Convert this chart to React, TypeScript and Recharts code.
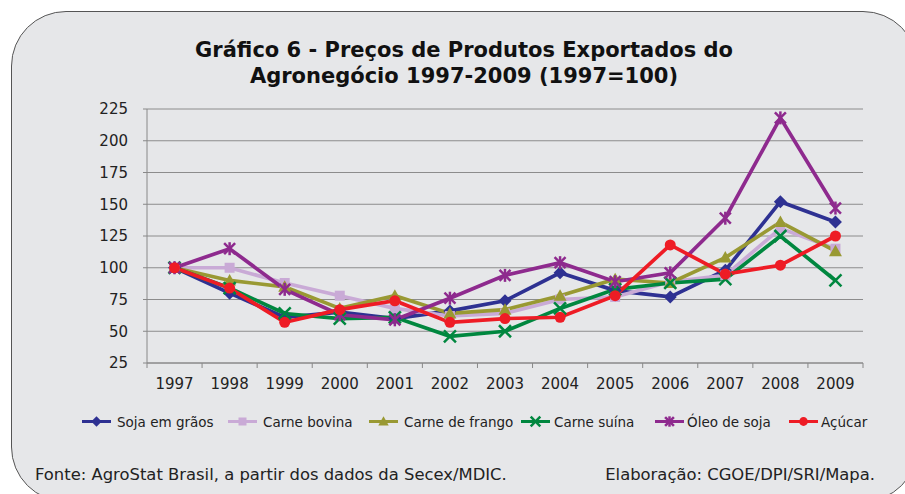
import React from "react";
import { LineChart, Line, XAxis, YAxis, CartesianGrid } from "recharts";

const years = ["1997", "1998", "1999", "2000", "2001", "2002", "2003", "2004", "2005", "2006", "2007", "2008", "2009"];
const sojaEmGraos = [100, 80, 61, 65, 60, 66, 74, 96, 82, 77, 98, 152, 136];
const carneBovina = [100, 100, 88, 78, 68, 62, 64, 75, 77, 89, 94, 131, 115];
const carneFrango = [100, 90, 85, 68, 78, 64, 67, 78, 91, 88, 108, 136, 113];
const carneSuina = [100, 84, 64, 60, 61, 46, 50, 68, 83, 88, 91, 125, 90];
const oleoSoja = [100, 115, 83, 63, 59, 76, 94, 104, 89, 96, 139, 218, 147];
const acucar = [100, 84, 57, 67, 74, 57, 60, 61, 78, 118, 95, 102, 125];
const yTicks = [25, 50, 75, 100, 125, 150, 175, 200, 225];

const series = [
  { key: "soja", name: "Soja em grãos", values: sojaEmGraos, color: "#2e3192", shape: "diamond" },
  { key: "bovina", name: "Carne bovina", values: carneBovina, color: "#c9aad6", shape: "square" },
  { key: "frango", name: "Carne de frango", values: carneFrango, color: "#999933", shape: "triangle" },
  { key: "suina", name: "Carne suína", values: carneSuina, color: "#00873f", shape: "x" },
  { key: "oleo", name: "Óleo de soja", values: oleoSoja, color: "#8e2a8e", shape: "star" },
  { key: "acucar", name: "Açúcar", values: acucar, color: "#ee1c25", shape: "circle" },
];

const data = years.map((ano, i) => {
  const row: any = { ano };
  series.forEach((s) => (row[s.key] = s.values[i]));
  return row;
});

const W = 905;
const H = 494;
const M = { top: 109, right: 42, bottom: 101, left: 0 };
const Y_W = 147;
const band = (W - Y_W - M.right) / years.length;

function Marker({ cx, cy, shape, color, s = 1 }: any) {
  const d = 6.5 * s;
  switch (shape) {
    case "diamond":
      return <polygon points={`${cx},${cy - d} ${cx + d},${cy} ${cx},${cy + d} ${cx - d},${cy}`} fill={color} />;
    case "square":
      return <rect x={cx - 5 * s} y={cy - 5 * s} width={10 * s} height={10 * s} fill={color} />;
    case "triangle":
      return <polygon points={`${cx},${cy - d} ${cx + d},${cy + 5 * s} ${cx - d},${cy + 5 * s}`} fill={color} />;
    case "x":
      return (
        <g stroke={color} strokeWidth={2.5}>
          <line x1={cx - 6 * s} y1={cy - 6 * s} x2={cx + 6 * s} y2={cy + 6 * s} />
          <line x1={cx - 6 * s} y1={cy + 6 * s} x2={cx + 6 * s} y2={cy - 6 * s} />
        </g>
      );
    case "star":
      return (
        <g stroke={color} strokeWidth={2.5}>
          <line x1={cx - 5.5 * s} y1={cy - 5.5 * s} x2={cx + 5.5 * s} y2={cy + 5.5 * s} />
          <line x1={cx - 5.5 * s} y1={cy + 5.5 * s} x2={cx + 5.5 * s} y2={cy - 5.5 * s} />
          <line x1={cx} y1={cy - 6.5 * s} x2={cx} y2={cy + 6.5 * s} />
        </g>
      );
    default:
      return <circle cx={cx} cy={cy} r={5.5 * s} fill={color} />;
  }
}

function XTick(props: any) {
  const { x, y, payload, index } = props;
  return (
    <g>
      <line x1={x - band / 2} y1={y} x2={x - band / 2} y2={y + 5} stroke="#888" />
      {index === years.length - 1 && <line x1={x + band / 2} y1={y} x2={x + band / 2} y2={y + 5} stroke="#888" />}
      <text x={x} y={y + 26} textAnchor="middle" fontSize={15} fill="#222" fontFamily="DejaVu Sans">
        {payload.value}
      </text>
    </g>
  );
}

const legendPos = [
  { icon: 82, text: 117 },
  { icon: 228, text: 263 },
  { icon: 369, text: 404 },
  { icon: 521, text: 554 },
  { icon: 655, text: 687 },
  { icon: 789, text: 821 },
];

const font = "'DejaVu Sans', Verdana, sans-serif";

export default function App() {
  return (
    <div style={{ position: "absolute", left: 0, top: 0, width: W, height: H, overflow: "hidden", background: "#fff" }}>
      <div
        style={{
          position: "absolute",
          left: 11,
          top: 11,
          width: 905,
          height: 489,
          background: "#e6e7e9",
          border: "1px solid #555",
          borderRadius: 55,
        }}
      />
      <div style={{ position: "absolute", left: 0, top: 0 }}>
        <LineChart width={W} height={H} data={data} margin={M}>
          <CartesianGrid vertical={false} stroke="#8c8c8c" />
          <XAxis
            dataKey="ano"
            height={30}
            tickSize={0}
            tickMargin={0}
            padding={{ left: band / 2, right: band / 2 }}
            axisLine={{ stroke: "#888" }}
            tick={<XTick />}
            interval={0}
          />
          <YAxis
            width={Y_W}
            domain={[25, 225]}
            ticks={yTicks}
            interval={0}
            tickSize={4}
            tickMargin={15}
            axisLine={{ stroke: "#888" }}
            tickLine={{ stroke: "#888" }}
            tick={{ fontSize: 15, fill: "#222", fontFamily: "DejaVu Sans" }}
          />
          {series.map((s) => (
            <Line
              key={s.key}
              dataKey={s.key}
              name={s.name}
              stroke={s.color}
              strokeWidth={3.7}
              isAnimationActive={false}
              dot={(p: any) => <Marker key={`${s.key}-${p.index}`} cx={p.cx} cy={p.cy} shape={s.shape} color={s.color} />}
            />
          ))}
        </LineChart>
      </div>
      <svg style={{ position: "absolute", left: 0, top: 0 }} width={W} height={H} fontFamily={font}>
        <text x={464} y={57} textAnchor="middle" fontSize={21} fontWeight="bold" fill="#111">
          Gráfico 6 - Preços de Produtos Exportados do
        </text>
        <text x={464} y={83} textAnchor="middle" fontSize={21} fontWeight="bold" fill="#111">
          Agronegócio 1997-2009 (1997=100)
        </text>
        {series.map((s, i) => (
          <g key={s.key}>
            <line x1={legendPos[i].icon} y1={421.5} x2={legendPos[i].icon + 29} y2={421.5} stroke={s.color} strokeWidth={3} />
            <Marker cx={legendPos[i].icon + 14.5} cy={421.5} shape={s.shape} color={s.color} s={0.8} />
            <text x={legendPos[i].text} y={426.5} fontSize={13.5} fill="#222">
              {s.name}
            </text>
          </g>
        ))}
        <text x={35} y={480} fontSize={16.4} fill="#222">
          Fonte: AgroStat Brasil, a partir dos dados da Secex/MDIC.
        </text>
        <text x={875} y={480} fontSize={16.4} textAnchor="end" fill="#222">
          Elaboração: CGOE/DPI/SRI/Mapa.
        </text>
      </svg>
    </div>
  );
}
